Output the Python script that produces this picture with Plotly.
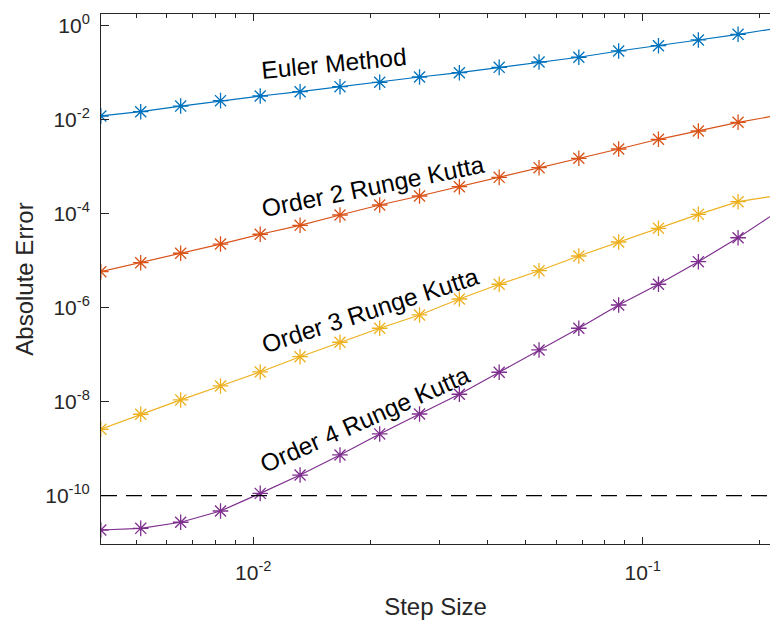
import plotly.graph_objects as go

# ---- data ----
STEP = [0.00406, 0.00514, 0.00651, 0.00824, 0.01042, 0.01319, 0.01670, 0.02112,
        0.02673, 0.03383, 0.04281, 0.05419, 0.06856, 0.08677, 0.1098, 0.1390,
        0.1758, 0.2226]

EULER = [0.0120, 0.0148, 0.0195, 0.0254, 0.0319, 0.0394, 0.0504, 0.0625, 0.0811,
         0.100, 0.130, 0.169, 0.213, 0.290, 0.375, 0.497, 0.656, 0.891]

RK2 = [5.83e-6, 9.06e-6, 1.44e-5, 2.26e-5, 3.65e-5, 5.66e-5, 9.38e-5, 1.53e-4,
       2.38e-4, 3.75e-4, 5.94e-4, 9.53e-4, 1.51e-3, 2.38e-3, 3.83e-3, 5.75e-3,
       8.81e-3, 1.24e-2]

RK3 = [2.59e-9, 5.40e-9, 1.09e-8, 2.16e-8, 4.29e-8, 9.06e-8, 1.84e-7, 3.65e-7,
       7.00e-7, 1.53e-6, 3.15e-6, 6.12e-6, 1.26e-5, 2.50e-5, 4.89e-5, 9.70e-5,
       1.80e-4, 2.45e-4]

RK4 = [1.86e-11, 2.02e-11, 2.72e-11, 4.72e-11, 1.12e-10, 2.75e-10, 7.35e-10,
       2.06e-9, 5.47e-9, 1.44e-8, 4.23e-8, 1.26e-7, 3.65e-7, 1.14e-6, 3.15e-6,
       9.53e-6, 3.08e-5, 1.12e-4]

TOLERANCE = 1e-10

SERIES_NAMES = ["Euler Method", "Order 2 Runge Kutta", "Order 3 Runge Kutta", "Order 4 Runge Kutta"]
SERIES_VALUES = [EULER, RK2, RK3, RK4]
COLORS = ["#0072BD", "#D95319", "#EDB120", "#7E2F8E"]

X_RANGE_LOG = [-2.391, -0.673]
Y_RANGE_LOG = [-11.028, 0.249]

Y_TICKS = [1e0, 1e-2, 1e-4, 1e-6, 1e-8, 1e-10]
Y_TICKTEXT = ["10<sup>0</sup>", "10<sup>-2</sup>", "10<sup>-4</sup>",
              "10<sup>-6</sup>", "10<sup>-8</sup>", "10<sup>-10</sup>"]
X_TICKS = [0.01, 0.1]
X_TICKTEXT = ["10<sup>-2</sup>", "10<sup>-1</sup>"]
X_MINOR = [0.005, 0.006, 0.007, 0.008, 0.009, 0.02, 0.03, 0.04, 0.05, 0.06,
           0.07, 0.08, 0.09, 0.2]

FONT = "Liberation Sans, Arial, Helvetica, sans-serif"
AXCOL = "#262626"

fig = go.Figure()
for name, vals, col in zip(SERIES_NAMES, SERIES_VALUES, COLORS):
    fig.add_trace(go.Scatter(
        x=STEP, y=vals, mode="lines+markers", name=name,
        line=dict(color=col, width=1.2),
        marker=dict(symbol="asterisk-open", size=13, line=dict(color=col, width=1.3)),
        cliponaxis=True,
    ))

fig.add_hline(y=TOLERANCE, line=dict(color="black", width=1.3, dash="16px,9px"))

# labels placed along the curves (paper coordinates)
LABEL_POS = [(0.348, 0.9075, -5.5), (0.4066, 0.6736, -11.5), (0.402, 0.4415, -18), (0.3946, 0.234, -24)]
for name, (px, py, ang) in zip(SERIES_NAMES, LABEL_POS):
    fig.add_annotation(x=px, y=py, xref="paper", yref="paper", text=name,
                       showarrow=False, textangle=ang, xanchor="center", yanchor="middle",
                       font=dict(family=FONT, size=24.5, color="black"))

fig.update_layout(
    width=770, height=620,
    margin=dict(l=101, r=0, t=14, b=76),
    paper_bgcolor="white", plot_bgcolor="white",
    showlegend=False,
    font=dict(family=FONT, color=AXCOL),
)
fig.update_xaxes(
    type="log", range=X_RANGE_LOG, automargin=False,
    tickmode="array", tickvals=X_TICKS, ticktext=X_TICKTEXT,
    ticks="inside", ticklen=7, tickwidth=1, tickcolor=AXCOL,
    minor=dict(tickmode="array", tickvals=X_MINOR, ticks="inside", ticklen=4,
               tickwidth=1, tickcolor=AXCOL, showgrid=False),
    showline=True, linecolor=AXCOL, linewidth=1, mirror="ticks",
    showgrid=False, zeroline=False, ticklabelstandoff=10,
    tickfont=dict(family=FONT, size=21, color=AXCOL),
    title=dict(text="Step Size", font=dict(family=FONT, size=24, color=AXCOL), standoff=14),
)
fig.update_yaxes(
    type="log", range=Y_RANGE_LOG, automargin=False,
    tickmode="array", tickvals=Y_TICKS, ticktext=Y_TICKTEXT,
    ticks="inside", ticklen=8, tickwidth=1, tickcolor=AXCOL,
    showline=True, linecolor=AXCOL, linewidth=1, mirror=False,
    showgrid=False, zeroline=False, ticklabelstandoff=6,
    tickfont=dict(family=FONT, size=21, color=AXCOL),
    title=dict(text="Absolute Error", font=dict(family=FONT, size=24, color=AXCOL), standoff=4),
)

fig.write_html("out.html", config={"displayModeBar": False},
               post_script="document.body.style.margin='0';document.body.style.overflow='hidden';")
